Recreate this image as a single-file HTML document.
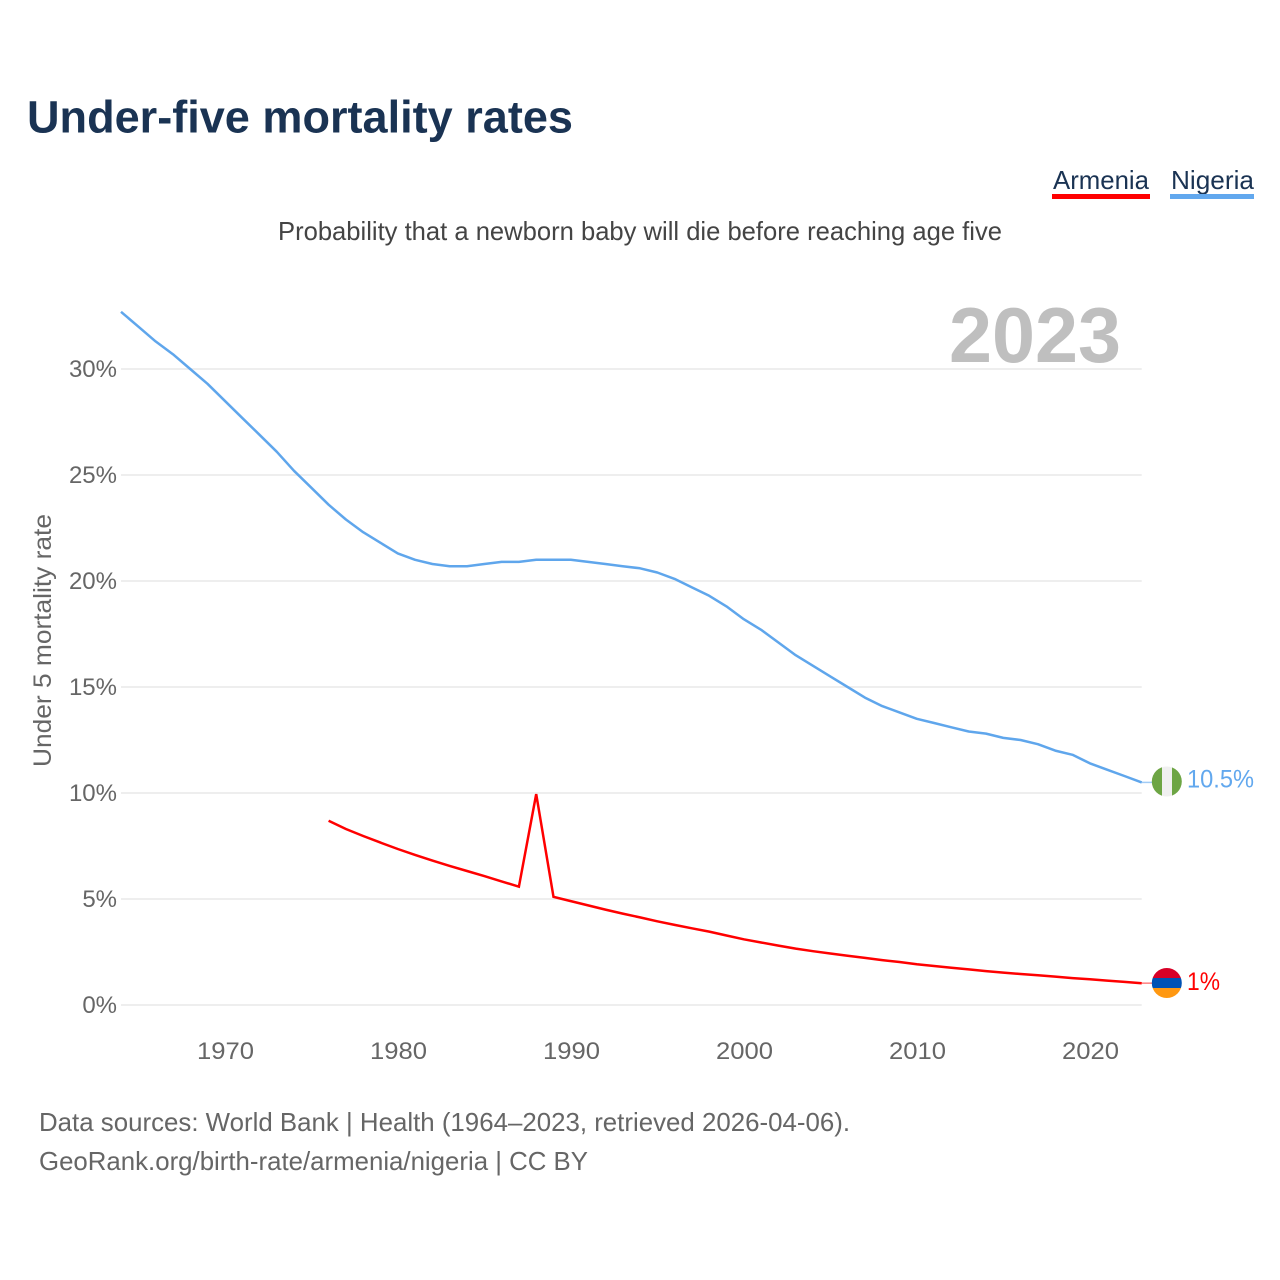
<!DOCTYPE html>
<html lang="en">
<head>
<meta charset="utf-8">
<title>Under-five mortality rates</title>
<style>
html,body{margin:0;padding:0;background:#fff;width:1280px;height:1280px;overflow:hidden}
svg{display:block;font-family:"Liberation Sans",sans-serif}
</style>
</head>
<body>
<svg id="chart" xmlns="http://www.w3.org/2000/svg" width="1280" height="1280" viewBox="0 0 1280 1280">
  <defs>
    <clipPath id="flag-clip-ng"><circle cx="1166.8" cy="781.5" r="15"/></clipPath>
    <clipPath id="flag-clip-am"><circle cx="1166.8" cy="983" r="15"/></clipPath>
  </defs>
  <rect width="1280" height="1280" fill="#fff"/>
  <text x="27" y="132.5" font-size="45" font-weight="700" fill="#1a3353" textLength="546" lengthAdjust="spacingAndGlyphs">Under-five mortality rates</text>
  <g>
    <text x="1053" y="189" font-size="26" fill="#1a3353" textLength="96" lengthAdjust="spacingAndGlyphs">Armenia</text>
    <rect x="1052" y="194" width="98" height="5" fill="#ff0000"/>
  </g>
  <g>
    <text x="1171" y="189" font-size="26" fill="#1a3353" textLength="83" lengthAdjust="spacingAndGlyphs">Nigeria</text>
    <rect x="1170" y="194" width="84" height="5" fill="#62a8ee"/>
  </g>
  <text x="278" y="240" font-size="26" fill="#444" textLength="724" lengthAdjust="spacingAndGlyphs">Probability that a newborn baby will die before reaching age five</text>
  <g id="grid"></g>
  <text x="949" y="362" font-size="78" font-weight="700" fill="#bfbfbf" textLength="172" lengthAdjust="spacingAndGlyphs">2023</text>
  <g id="y-ticks"></g>
  <g id="x-ticks"></g>
  <text transform="translate(51,767) rotate(-90)" x="0" y="0" font-size="25" fill="#666" textLength="253" lengthAdjust="spacingAndGlyphs">Under 5 mortality rate</text>
  <g id="series"></g>
  <g clip-path="url(#flag-clip-ng)">
    <rect x="1151" y="766" width="11" height="31" fill="#6da544"/>
    <rect x="1162" y="766" width="10" height="31" fill="#f0f0f0"/>
    <rect x="1172" y="766" width="11" height="31" fill="#6da544"/>
  </g>
  <g clip-path="url(#flag-clip-am)">
    <rect x="1151" y="967" width="32" height="11" fill="#d80027"/>
    <rect x="1151" y="978" width="32" height="10" fill="#0052b4"/>
    <rect x="1151" y="988" width="32" height="11" fill="#ff9811"/>
  </g>
  <text x="1187" y="787.5" font-size="25" fill="#62a8ee" textLength="67" lengthAdjust="spacingAndGlyphs">10.5%</text>
  <text x="1187" y="990" font-size="25" fill="#ff0000" textLength="33" lengthAdjust="spacingAndGlyphs">1%</text>
  <text x="39" y="1131" font-size="26" fill="#666" textLength="811" lengthAdjust="spacingAndGlyphs">Data sources: World Bank | Health (1964–2023, retrieved 2026-04-06).</text>
  <text x="39" y="1170" font-size="26" fill="#666" textLength="549" lengthAdjust="spacingAndGlyphs">GeoRank.org/birth-rate/armenia/nigeria | CC BY</text>
</svg>
<script>
var nigeriaStartYear = 1964;
var nigeriaValues = [32.7,32.0,31.3,30.7,30.0,29.3,28.5,27.7,26.9,26.1,25.2,24.4,23.6,22.9,22.3,21.8,21.3,21.0,20.8,20.7,20.7,20.8,20.9,20.9,21.0,21.0,21.0,20.9,20.8,20.7,20.6,20.4,20.1,19.7,19.3,18.8,18.2,17.7,17.1,16.5,16.0,15.5,15.0,14.5,14.1,13.8,13.5,13.3,13.1,12.9,12.8,12.6,12.5,12.3,12.0,11.8,11.4,11.1,10.8,10.5];
var armeniaStartYear = 1976;
var armeniaValues = [8.69,8.30,7.97,7.66,7.36,7.08,6.81,6.56,6.32,6.08,5.83,5.58,9.95,5.10,4.90,4.70,4.50,4.31,4.13,3.95,3.78,3.62,3.46,3.28,3.10,2.95,2.80,2.66,2.54,2.43,2.32,2.22,2.12,2.03,1.92,1.84,1.76,1.68,1.60,1.53,1.46,1.40,1.34,1.27,1.21,1.15,1.09,1.03];
var yTickValues = [0,5,10,15,20,25,30];
var yTickLabels = ["0%","5%","10%","15%","20%","25%","30%"];
var xTickYears = [1970,1980,1990,2000,2010,2020];
var xTickLabels = ["1970","1980","1990","2000","2010","2020"];

var SVG_NS = "http://www.w3.org/2000/svg";
function xScale(year) { return 224.8 + (year - 1970) * 17.3; }
function yScale(pct) { return 1005 - pct * 21.2; }
function make(tag, attrs, parent) {
  var el = document.createElementNS(SVG_NS, tag);
  for (var k in attrs) { el.setAttribute(k, attrs[k]); }
  parent.appendChild(el);
  return el;
}
var gridGroup = document.getElementById("grid");
var yGroup = document.getElementById("y-ticks");
var xGroup = document.getElementById("x-ticks");
var seriesGroup = document.getElementById("series");

yTickValues.forEach(function (v, i) {
  var line = make("line", {x1: xScale(1964), x2: xScale(2023), y1: yScale(v), y2: yScale(v), stroke: "#eeeeee", "stroke-width": 2}, gridGroup);
  
  
  var label = make("text", {x: 117, y: yScale(v) + 8, "text-anchor": "end", "font-size": 24, fill: "#666"}, yGroup);
  
  
  label.textContent = yTickLabels[i];
});
xTickYears.forEach(function (y, i) {
  var label = make("text", {x: xScale(y) + 0.7, y: 1059, "text-anchor": "middle", "font-size": 24, fill: "#666", textLength: 57, lengthAdjust: "spacingAndGlyphs"}, xGroup);
  
  
  label.textContent = xTickLabels[i];
});
function pointsFor(values, startYear) {
  return values.map(function (v, i) {
    return xScale(startYear + i).toFixed(1) + "," + yScale(v).toFixed(1);
  }).join(" ");
}
var armeniaLine = make("polyline", {points: pointsFor(armeniaValues, armeniaStartYear), fill: "none", stroke: "#ff0000", "stroke-width": 2.5, "stroke-linejoin": "miter"}, seriesGroup);


var nigeriaLine = make("polyline", {points: pointsFor(nigeriaValues, nigeriaStartYear), fill: "none", stroke: "#5fa6ec", "stroke-width": 2.5, "stroke-linejoin": "round"}, seriesGroup);


var armeniaLast = armeniaValues[armeniaValues.length - 1];
var nigeriaLast = nigeriaValues[nigeriaValues.length - 1];
var armeniaLink = make("line", {x1: xScale(2023), x2: 1152, y1: yScale(armeniaLast), y2: yScale(armeniaLast), stroke: "#ff0000", "stroke-width": 1.5, "stroke-opacity": 0.5}, seriesGroup);


var nigeriaLink = make("line", {x1: xScale(2023), x2: 1152, y1: yScale(nigeriaLast), y2: yScale(nigeriaLast), stroke: "#62a8ee", "stroke-width": 1.5, "stroke-opacity": 0.6}, seriesGroup);


</script>
</body>
</html>
